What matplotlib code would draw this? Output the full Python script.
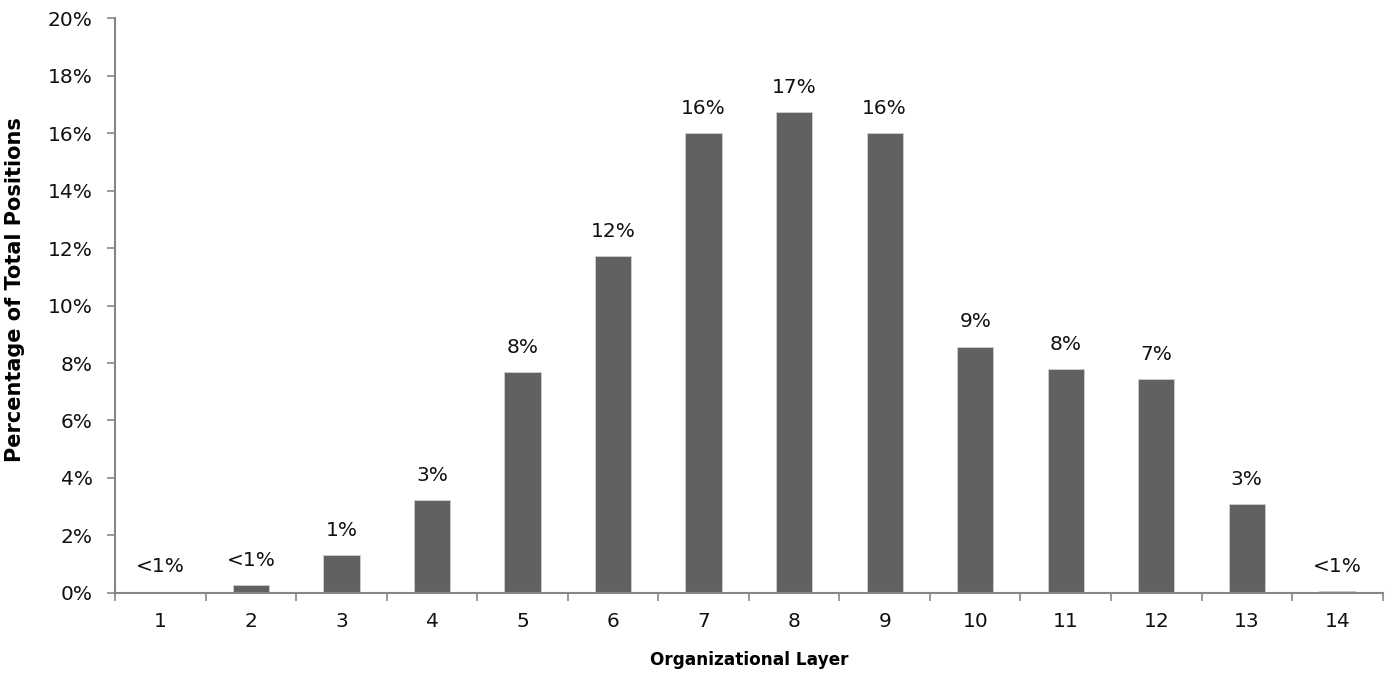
import matplotlib
matplotlib.use("Agg")
import matplotlib.pyplot as plt
from matplotlib.ticker import MultipleLocator, FuncFormatter

layers = list(range(1, 15))
values = [0.05, 0.28, 1.32, 3.23, 7.68, 11.72, 16.0, 16.72, 16.0, 8.57, 7.78, 7.45, 3.08, 0.06]
labels = ["<1%", "<1%", "1%", "3%", "8%", "12%", "16%", "17%", "16%", "9%", "8%", "7%", "3%", "<1%"]

plt.rcParams['font.family'] = ['DejaVu Sans']
fig = plt.figure(figsize=(13.91, 6.75), dpi=100)
ax = fig.add_axes([0.0827, 0.1215, 0.9113, 0.8518])

bars = ax.bar(layers, values, width=0.4, color="#616161", edgecolor="#d0d0d0", linewidth=0.6, zorder=2)
for x, v, lab in zip(layers, values, labels):
    ax.annotate(lab, (x, v), xytext=(0, 11), textcoords="offset points",
                ha="center", va="bottom", fontsize=14.5, color="#111111")

ax.set_xlim(0.5, 14.5)
ax.set_ylim(0, 20)
ax.yaxis.set_major_locator(MultipleLocator(2))
ax.yaxis.set_major_formatter(FuncFormatter(lambda v, p: f"{int(round(v))}%"))
ax.set_xticks(layers)
ax.set_xticklabels([str(l) for l in layers])
ax.set_xticks([i + 0.5 for i in range(0, 15)], minor=True)
ax.tick_params(axis="x", which="major", length=0, pad=14, labelsize=14.5, labelcolor="#111111")
ax.tick_params(axis="x", which="minor", length=6, width=1.2, color="#868686", direction="out")
ax.tick_params(axis="y", which="major", length=6, width=1.2, color="#868686", direction="out", pad=10,
               labelsize=14.5, labelcolor="#111111")

for s in ["top", "right"]:
    ax.spines[s].set_visible(False)
for s in ["left", "bottom"]:
    ax.spines[s].set_color("#868686")
    ax.spines[s].set_linewidth(1.5)

ax.set_xlabel("Organizational Layer", fontsize=12.2, fontweight="bold", labelpad=14)
ax.set_ylabel("Percentage of Total Positions", fontsize=15, fontweight="bold")
ax.yaxis.set_label_coords(-0.071, 0.527)

fig.savefig("out.png", dpi=100)
